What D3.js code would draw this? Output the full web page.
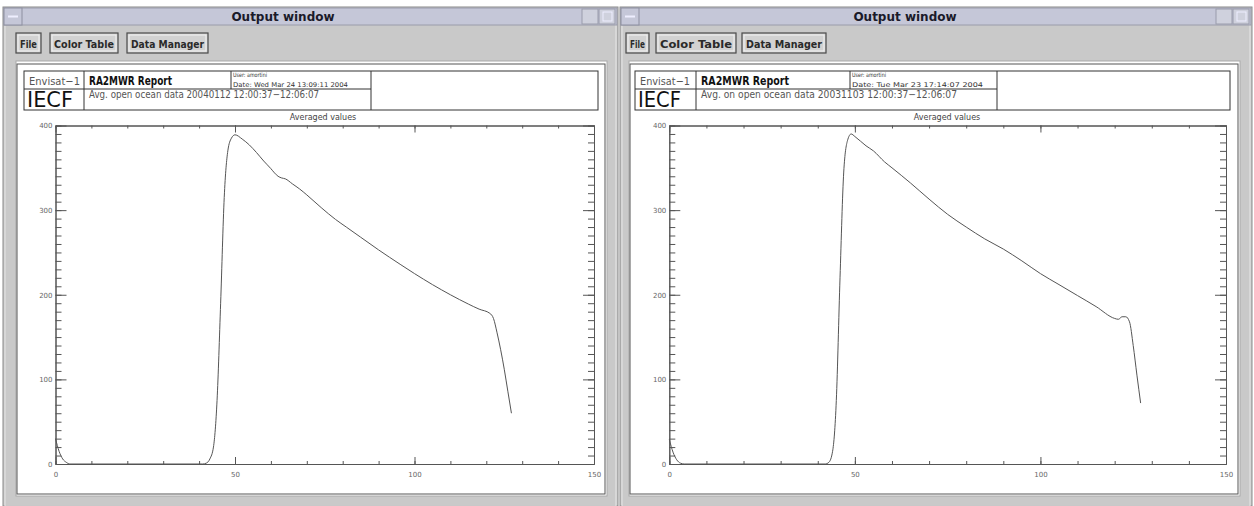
<!DOCTYPE html>
<html><head><meta charset="utf-8">
<script src="https://cdn.jsdelivr.net/npm/d3@7/dist/d3.min.js"></script>
<style>
html,body{margin:0;padding:0;background:#fff;}
svg{display:block;}
text{font-family:"DejaVu Sans",sans-serif;}
</style></head>
<body>
<svg id="c" width="1254" height="506"></svg>
<script>
// ---------- data ----------
const windowTitles = ["Output window", "Output window"];
const buttonLabels = ["File", "Color Table", "Data Manager"];
const plotTitle = "Averaged values";
const missionLabel = "Envisat\u22121";
const reportLabel = "RA2MWR Report";
const orgLabel = "IECF";
const userLabel = "User: amortini";
const leftDate = "Date: Wed Mar 24 13:09:11 2004";
const rightDate = "Date: Tue Mar 23 17:14:07 2004";
const leftSubtitle = "Avg. open ocean data 20040112 12:00:37\u221212:06:07";
const rightSubtitle = "Avg. on open ocean data 20031103 12:00:37\u221212:06:07";

const xMajorTicks = [0, 50, 100, 150];
const yMajorTicks = [0, 100, 200, 300, 400];
const xMinorTicks = [0,10,20,30,40,50,60,70,80,90,100,110,120,130,140,150];
const yMinorTicks = [0,10,20,30,40,50,60,70,80,90,100,110,120,130,140,150,160,170,180,190,200,210,220,230,240,250,260,270,280,290,300,310,320,330,340,350,360,370,380,390,400];

// left plot (20040112)
const leftX = [0,1,2,3,4,41,42,43,44,45,46,47,48,49,50,52,54,56,58,60,61,62,63,64,66,68,70,74,78,81,85,90,96,100,105,110,115,118,121,122,123,124,125,126,127];
const leftY = [30,15,6,2,0,0,1,6,20,75,190,315,370,385,389,384,377,368,358,349,344,340,338,337,331,325,318,303,289,280,268,253,236,225,212,200,189,183,178,172,155,135,112,86,60];

// right plot (20031103)
const rightX = [0,1,2,3,4,42,43,44,45,46,47,48,49,50,53,55,58,60,65,70,75,80,85,90,95,100,105,110,115,120,121,122,123,124,125,126,127];
const rightY = [29,14,5,1,0,0,2,15,75,220,345,382,390,387,376,370,357,350,332,313,295,280,266,254,240,225,212,199,186,172,171,174,174,168,140,105,72];

// ---------- drawing ----------
const svg = d3.select("#c");

function drawWindow(cfg) {
  const g = svg.append("g");
  // window body
  g.append("rect").attr("x", cfg.wx0).attr("y", 7).attr("width", cfg.wx1 - cfg.wx0).attr("height", 499)
    .attr("fill", "#c9c9c9").attr("stroke", "#8a8a8a").attr("stroke-width", 1);
  g.append("rect").attr("x", cfg.wx0 + 2).attr("y", 9).attr("width", cfg.wx1 - cfg.wx0 - 4).attr("height", 497)
    .attr("fill", "none").attr("stroke", "#e6e6e6").attr("stroke-width", 1);
  // title bar
  g.append("rect").attr("x", cfg.wx0 + 1).attr("y", 8).attr("width", cfg.wx1 - cfg.wx0 - 2).attr("height", 17)
    .attr("fill", "#c5c7d8").attr("stroke", "#9a9cab");
  g.append("rect").attr("x", cfg.wx0 + 1).attr("y", 8).attr("width", 18).attr("height", 17)
    .attr("fill", "#c5c7d8").attr("stroke", "#8d8fa0");
  g.append("line").attr("x1", cfg.wx0 + 5).attr("x2", cfg.wx0 + 15).attr("y1", 16.5).attr("y2", 16.5).attr("stroke", "#eef").attr("stroke-width", 2);
  g.append("rect").attr("x", cfg.wx1 - 36).attr("y", 9).attr("width", 16).attr("height", 15)
    .attr("fill", "#cfd1dd").attr("stroke", "#9a9cab");
  g.append("rect").attr("x", cfg.wx1 - 19).attr("y", 9).attr("width", 16).attr("height", 15)
    .attr("fill", "#cfd1dd").attr("stroke", "#9a9cab");
  g.append("rect").attr("x", cfg.wx1 - 15).attr("y", 12).attr("width", 9).attr("height", 9)
    .attr("fill", "none").attr("stroke", "#eef");
  g.append("text").attr("x", cfg.titleX).attr("y", 21).attr("text-anchor", "middle")
    .attr("font-size", 12).attr("font-weight", "bold").attr("fill", "#1a1a2a").text(cfg.title);

  // buttons
  cfg.buttons.forEach((b, i) => {
    g.append("rect").attr("x", b[0]).attr("y", 33).attr("width", b[1] - b[0]).attr("height", 20)
      .attr("fill", "#d2d2d2").attr("stroke", "#4a4a4a").attr("stroke-width", 1.2);
    g.append("rect").attr("x", b[0] + 2).attr("y", 35).attr("width", b[1] - b[0] - 4).attr("height", 16)
      .attr("fill", "none").attr("stroke", "#f2f2f2").attr("stroke-width", 1);
    g.append("text").attr("x", (b[0] + b[1]) / 2).attr("y", 47.5).attr("text-anchor", "middle")
      .attr("font-size", 11).attr("font-weight", "bold").attr("fill", "#2a2a2a")
      .attr("textLength", b[1] - b[0] - 8).attr("lengthAdjust", "spacingAndGlyphs")
      .text(buttonLabels[i]);
  });

  // white panel
  g.append("rect").attr("x", cfg.px0).attr("y", 61).attr("width", cfg.px1 - cfg.px0).attr("height", 435)
    .attr("fill", "#fff").attr("stroke", "#aaa");
  g.append("rect").attr("x", cfg.px0 + 1).attr("y", 64).attr("width", cfg.px1 - cfg.px0 - 3).attr("height", 430)
    .attr("fill", "none").attr("stroke", "#555");

  // header table
  const h = cfg.header;
  const ht = 71, hm = 89, hb = 110;
  const hg = g.append("g").attr("stroke", "#333").attr("stroke-width", 1).attr("fill", "none");
  hg.append("rect").attr("x", h.x0).attr("y", ht).attr("width", h.x4 - h.x0).attr("height", hb - ht);
  hg.append("line").attr("x1", h.x1).attr("x2", h.x1).attr("y1", ht).attr("y2", hb);
  hg.append("line").attr("x1", h.x2).attr("x2", h.x2).attr("y1", ht).attr("y2", hm);
  hg.append("line").attr("x1", h.x3).attr("x2", h.x3).attr("y1", ht).attr("y2", hb);
  hg.append("line").attr("x1", h.x0).attr("x2", h.x3).attr("y1", hm).attr("y2", hm);

  g.append("text").attr("x", h.x0 + 5).attr("y", 85).attr("font-size", 11).attr("fill", "#555")
    .attr("textLength", h.envW).attr("lengthAdjust", "spacingAndGlyphs").text(missionLabel);
  g.append("text").attr("x", h.x1 + 5).attr("y", 85).attr("font-size", 12).attr("font-weight", "bold").attr("fill", "#111")
    .attr("textLength", h.repW).attr("lengthAdjust", "spacingAndGlyphs").text(reportLabel);
  g.append("text").attr("x", h.x2 + 2).attr("y", 77).attr("font-size", 6).attr("fill", "#333")
    .attr("textLength", 34).attr("lengthAdjust", "spacingAndGlyphs").text(userLabel);
  g.append("text").attr("x", h.x2 + 2).attr("y", 86.5).attr("font-size", 6.5).attr("fill", "#333")
    .attr("textLength", h.dateW).attr("lengthAdjust", "spacingAndGlyphs").text(h.date);
  g.append("text").attr("x", h.x0 + 3).attr("y", 106.5).attr("font-size", 21).attr("fill", "#111")
    .attr("textLength", h.orgW).attr("lengthAdjust", "spacingAndGlyphs").text(orgLabel);
  g.append("text").attr("x", h.x1 + 5).attr("y", 98).attr("font-size", 10).attr("fill", "#555")
    .attr("textLength", h.subW).attr("lengthAdjust", "spacingAndGlyphs").text(h.sub);

  // plot
  const x = d3.scaleLinear().domain([0, 150]).range([cfg.plotL, cfg.plotR]);
  const y = d3.scaleLinear().domain([0, 400]).range([464, 125.5]);

  g.append("text").attr("x", cfg.titleCX).attr("y", 120).attr("text-anchor", "middle")
    .attr("font-size", 8).attr("fill", "#444").text(plotTitle);

  const axStyle = sel => {
    sel.selectAll("path").attr("stroke", "#555");
    sel.selectAll("line").attr("stroke", "#555");
    sel.selectAll("text").attr("font-family", "DejaVu Serif, serif").attr("font-size", 7).attr("fill", "#666");
  };
  // minor ticks
  g.append("g").attr("transform", `translate(0,464)`)
    .call(d3.axisBottom(x).tickValues(xMinorTicks).tickSize(-3).tickSizeOuter(0).tickFormat("")).call(axStyle);
  g.append("g").attr("transform", `translate(0,125.5)`)
    .call(d3.axisTop(x).tickValues(xMinorTicks).tickSize(-3).tickSizeOuter(0).tickFormat("")).call(axStyle);
  g.append("g").attr("transform", `translate(${cfg.plotL},0)`)
    .call(d3.axisLeft(y).tickValues(yMinorTicks).tickSize(-6).tickSizeOuter(0).tickFormat("")).call(axStyle);
  g.append("g").attr("transform", `translate(${cfg.plotR},0)`)
    .call(d3.axisRight(y).tickValues(yMinorTicks).tickSize(-6).tickSizeOuter(0).tickFormat("")).call(axStyle);
  // major ticks + labels
  g.append("g").attr("transform", `translate(0,464)`)
    .call(d3.axisBottom(x).tickValues(xMajorTicks).tickSize(-7).tickSizeOuter(0).tickPadding(8)).call(axStyle);
  g.append("g").attr("transform", `translate(0,125.5)`)
    .call(d3.axisTop(x).tickValues(xMajorTicks).tickSize(-7).tickSizeOuter(0).tickFormat("")).call(axStyle);
  g.append("g").attr("transform", `translate(${cfg.plotL},0)`)
    .call(d3.axisLeft(y).tickValues(yMajorTicks).tickSize(-11).tickSizeOuter(0).tickPadding(3)).call(axStyle);
  g.append("g").attr("transform", `translate(${cfg.plotR},0)`)
    .call(d3.axisRight(y).tickValues(yMajorTicks).tickSize(-11).tickSizeOuter(0).tickFormat("")).call(axStyle);

  // curve
  const pts = cfg.xs.map((v, i) => [v, cfg.ys[i]]);
  g.append("path").datum(pts)
    .attr("d", d3.line().x(d => x(d[0])).y(d => y(d[1])).curve(d3.curveMonotoneX))
    .attr("fill", "none").attr("stroke", "#555").attr("stroke-width", 1);
}

drawWindow({
  wx0: 3, wx1: 618, title: windowTitles[0], titleX: 283,
  buttons: [[16, 41], [50, 118], [127, 208]],
  px0: 16, px1: 607,
  header: { x0: 24, x1: 84, x2: 231, x3: 371, x4: 598, date: leftDate, sub: leftSubtitle,
            envW: 51, repW: 83, dateW: 115, orgW: 46, subW: 230 },
  plotL: 55.5, plotR: 594, titleCX: 323,
  xs: leftX, ys: leftY
});
drawWindow({
  wx0: 620, wx1: 1252, title: windowTitles[1], titleX: 905,
  buttons: [[626, 649], [656, 736], [742, 826]],
  px0: 629, px1: 1240,
  header: { x0: 635, x1: 696, x2: 850, x3: 997, x4: 1230, date: rightDate, sub: rightSubtitle,
            envW: 50, repW: 88, dateW: 131, orgW: 43, subW: 256 },
  plotL: 669.3, plotR: 1226, titleCX: 947,
  xs: rightX, ys: rightY
});
</script>
</body></html>
